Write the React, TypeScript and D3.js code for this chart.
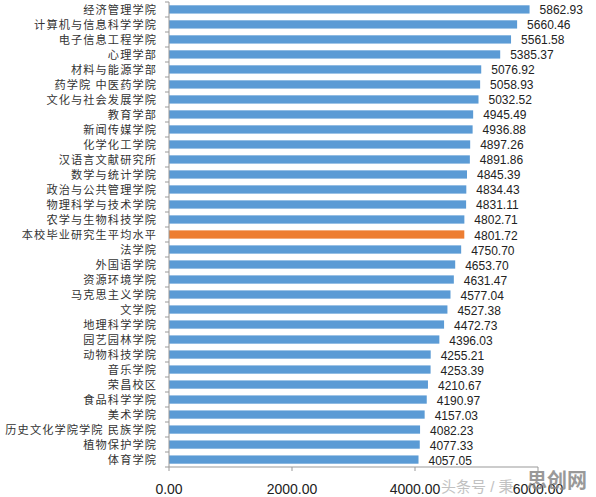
import React from "react";
import * as d3 from "d3";

const categories = [
  "经济管理学院", "计算机与信息科学学院", "电子信息工程学院", "心理学部", "材料与能源学部",
  "药学院 中医药学院", "文化与社会发展学院", "教育学部", "新闻传媒学院", "化学化工学院",
  "汉语言文献研究所", "数学与统计学院", "政治与公共管理学院", "物理科学与技术学院", "农学与生物科技学院",
  "本校毕业研究生平均水平", "法学院", "外国语学院", "资源环境学院", "马克思主义学院",
  "文学院", "地理科学学院", "园艺园林学院", "动物科技学院", "音乐学院",
  "荣昌校区", "食品科学学院", "美术学院", "历史文化学院学院 民族学院", "植物保护学院", "体育学院",
];
const values = [
  5862.93, 5660.46, 5561.58, 5385.37, 5076.92,
  5058.93, 5032.52, 4945.49, 4936.88, 4897.26,
  4891.86, 4845.39, 4834.43, 4831.11, 4802.71,
  4801.72, 4750.70, 4653.70, 4631.47, 4577.04,
  4527.38, 4472.73, 4396.03, 4255.21, 4253.39,
  4210.67, 4190.97, 4157.03, 4082.23, 4077.33, 4057.05,
];
const highlight = "本校毕业研究生平均水平";
const xTicks = [0, 2000, 4000, 6000];

const W = 596, H = 497;

export default function App() {
  const x = d3.scaleLinear().domain([0, 6000]).range([169, 538]);
  const y = d3.scaleBand<string>().domain(categories).range([2, 467]).paddingInner(0.45).paddingOuter(0.22);
  const bw = y.bandwidth();
  const boundaries = d3.range(categories.length + 1).map((i) => 2 + i * (465 / categories.length));
  return (
    <svg width={W} height={H} style={{ position: "absolute", left: 0, top: 0, background: "#fff" }}>
      {categories.map((c, i) => (
        <g key={c}>
          <rect x={x(0)} y={y(c)!} width={x(values[i]) - x(0)} height={bw}
            fill={c === highlight ? "#ED7D31" : "#5B9BD5"} />
          <text x={157} y={y(c)! + bw / 2 + 0.5} textAnchor="end" dominantBaseline="central"
            fontFamily="'Liberation Sans', 'Noto Sans CJK SC', sans-serif" fontSize={11.2}
            letterSpacing={1.1} fill="#333">{c}</text>
          <text x={x(values[i]) + 10} y={y(c)! + bw / 2 + 1} dominantBaseline="central"
            fontFamily="'Liberation Sans', sans-serif" fontSize={12} fill="#222">{values[i].toFixed(2)}</text>
        </g>
      ))}
      <line x1={x(0)} x2={x(0)} y1={2} y2={467} stroke="#999" />
      {boundaries.map((b, i) => (
        <line key={i} x1={x(0) - 4} x2={x(0)} y1={b} y2={b} stroke="#999" />
      ))}
      <line x1={x(0)} x2={x(6000)} y1={467} y2={467} stroke="#999" />
      {xTicks.map((t) => (
        <g key={t}>
          <line x1={x(t)} x2={x(t)} y1={467} y2={471} stroke="#999" />
          <text x={x(t)} y={489} textAnchor="middle" dominantBaseline="central"
            fontFamily="'Liberation Sans', sans-serif" fontSize={14} fill="#222">{t.toFixed(2)}</text>
        </g>
      ))}
      <text x={441} y={486} dominantBaseline="central" fontFamily="'Liberation Sans', 'Noto Sans CJK SC', sans-serif"
        fontSize={15} fill="#bbb" opacity={0.9}>头条号 / 秉</text>
      <text x={527} y={481} dominantBaseline="central" fontFamily="'Liberation Sans', 'Noto Sans CJK SC', sans-serif"
        fontSize={20} fontWeight="bold" fill="#888" opacity={0.85}>思创网</text>
    </svg>
  );
}
